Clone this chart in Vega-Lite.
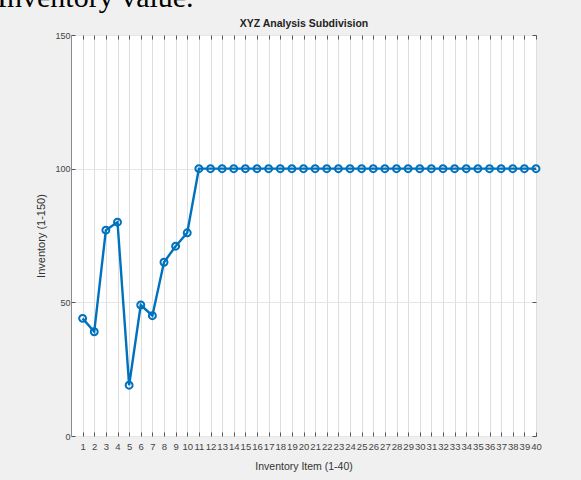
{
  "$schema": "https://vega.github.io/schema/vega-lite/v6.json",
  "width": 465,
  "height": 401,
  "autosize": {"type": "none"},
  "padding": {"left": 71, "top": 35, "right": 45, "bottom": 44},
  "background": "#f0f0f0",
  "title": {
    "text": "Inventory value.",
    "anchor": "start",
    "frame": "group",
    "font": "Liberation Serif",
    "fontSize": 30,
    "fontWeight": "normal",
    "color": "#000000",
    "baseline": "alphabetic",
    "offset": 0,
    "dx": -74,
    "dy": 18
  },
  "config": {
    "view": {"fill": "white", "stroke": "#8c8c8c", "strokeWidth": 1},
    "axis": {
      "labelFont": "Liberation Sans",
      "titleFont": "Liberation Sans",
      "labelColor": "#444444",
      "titleColor": "#333333",
      "tickColor": "#555555",
      "domain": false,
      "labelOverlap": false,
      "labelFlush": false,
      "labelBound": false
    }
  },
  "data": {
    "values": [
      {"item": 1, "inventory": 44},
      {"item": 2, "inventory": 39},
      {"item": 3, "inventory": 77},
      {"item": 4, "inventory": 80},
      {"item": 5, "inventory": 19},
      {"item": 6, "inventory": 49},
      {"item": 7, "inventory": 45},
      {"item": 8, "inventory": 65},
      {"item": 9, "inventory": 71},
      {"item": 10, "inventory": 76},
      {"item": 11, "inventory": 100},
      {"item": 12, "inventory": 100},
      {"item": 13, "inventory": 100},
      {"item": 14, "inventory": 100},
      {"item": 15, "inventory": 100},
      {"item": 16, "inventory": 100},
      {"item": 17, "inventory": 100},
      {"item": 18, "inventory": 100},
      {"item": 19, "inventory": 100},
      {"item": 20, "inventory": 100},
      {"item": 21, "inventory": 100},
      {"item": 22, "inventory": 100},
      {"item": 23, "inventory": 100},
      {"item": 24, "inventory": 100},
      {"item": 25, "inventory": 100},
      {"item": 26, "inventory": 100},
      {"item": 27, "inventory": 100},
      {"item": 28, "inventory": 100},
      {"item": 29, "inventory": 100},
      {"item": 30, "inventory": 100},
      {"item": 31, "inventory": 100},
      {"item": 32, "inventory": 100},
      {"item": 33, "inventory": 100},
      {"item": 34, "inventory": 100},
      {"item": 35, "inventory": 100},
      {"item": 36, "inventory": 100},
      {"item": 37, "inventory": 100},
      {"item": 38, "inventory": 100},
      {"item": 39, "inventory": 100},
      {"item": 40, "inventory": 100}
    ]
  },
  "layer": [
    {
      "mark": {"type": "line", "color": "#0072BD", "strokeWidth": 2.4},
      "encoding": {
        "x": {
          "field": "item",
          "type": "quantitative",
          "scale": {"domain": [0, 40], "nice": false, "zero": false},
          "axis": {
            "orient": "bottom",
            "values": [1,2,3,4,5,6,7,8,9,10,11,12,13,14,15,16,17,18,19,20,21,22,23,24,25,26,27,28,29,30,31,32,33,34,35,36,37,38,39,40],
            "labelFontSize": 9.5,
            "labelPadding": 9,
            "tickSize": -4,
            "grid": true,
            "gridColor": "#dedede",
            "title": "Inventory Item (1-40)",
            "titleFontSize": 10.5,
            "titleFontWeight": "normal",
            "titlePadding": 11
          }
        },
        "y": {
          "field": "inventory",
          "type": "quantitative",
          "scale": {"domain": [0, 150], "nice": false},
          "axis": {
            "orient": "left",
            "values": [0, 50, 100, 150],
            "labelFontSize": 9,
            "labelPadding": 5,
            "tickSize": -4,
            "grid": true,
            "gridColor": "#e6e6e6",
            "title": "Inventory (1-150)",
            "titleFontSize": 11,
            "titleFontWeight": "normal",
            "titlePadding": 8
          }
        }
      }
    },
    {
      "mark": {"type": "point", "shape": "circle", "filled": false, "color": "#0072BD", "strokeWidth": 2, "size": 48, "opacity": 1},
      "encoding": {
        "x": {
          "field": "item",
          "type": "quantitative",
          "axis": {
            "orient": "top",
            "values": [1,2,3,4,5,6,7,8,9,10,11,12,13,14,15,16,17,18,19,20,21,22,23,24,25,26,27,28,29,30,31,32,33,34,35,36,37,38,39,40],
            "labels": false,
            "tickSize": -4,
            "grid": false,
            "title": "XYZ Analysis Subdivision",
            "titleFontSize": 10.5,
            "titleFontWeight": "bold",
            "titleColor": "#222222",
            "titlePadding": 6
          }
        },
        "y": {
          "field": "inventory",
          "type": "quantitative",
          "axis": {
            "orient": "right",
            "values": [0, 50, 100, 150],
            "labels": false,
            "tickSize": -4,
            "grid": false,
            "title": null
          }
        }
      }
    }
  ],
  "resolve": {"axis": {"x": "independent", "y": "independent"}}
}
